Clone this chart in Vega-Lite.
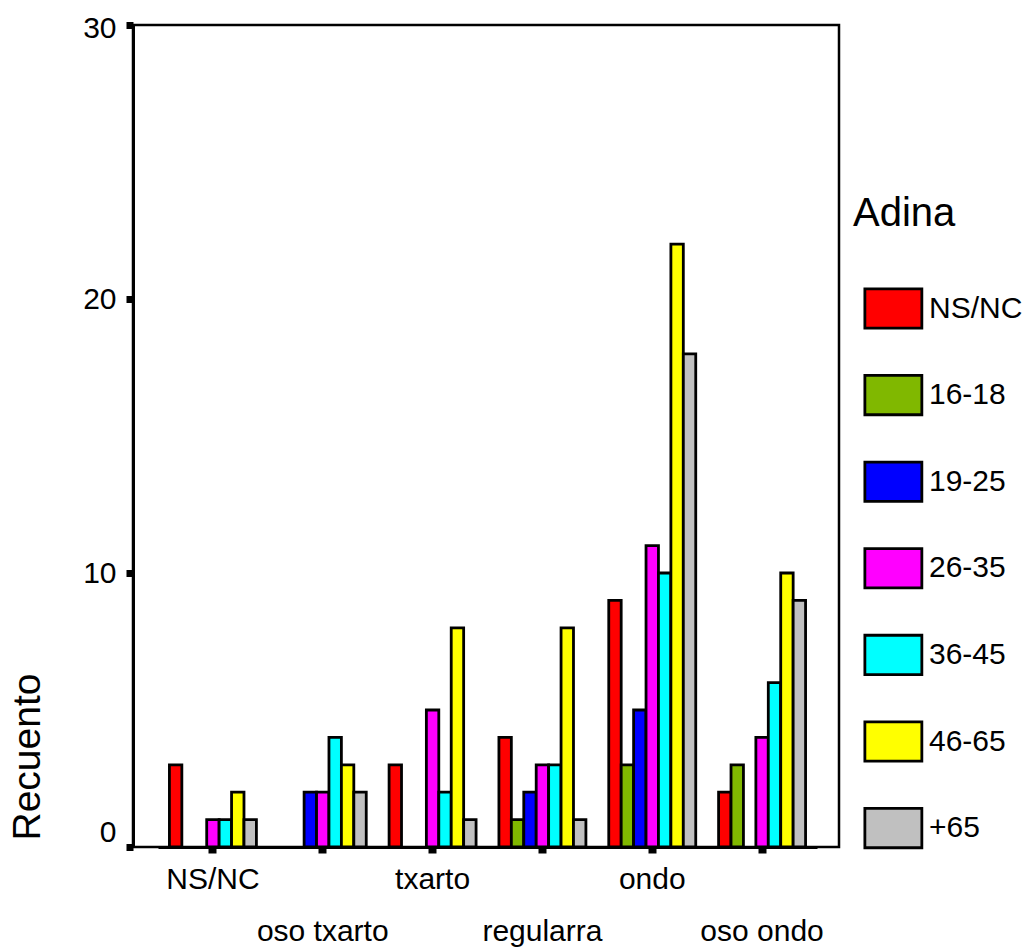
{
  "$schema": "https://vega.github.io/schema/vega-lite/v6.json",
  "autosize": {"type": "none"},
  "padding": {"left": 133, "top": 25, "right": 184, "bottom": 100},
  "width": 706,
  "height": 822,
  "background": "white",
  "config": {
    "font": "Liberation Sans",
    "view": {"stroke": "black", "strokeWidth": 2.5},
    "axis": {"labelColor": "black", "titleColor": "black", "domainColor": "black", "tickColor": "black", "grid": false}
  },
  "data": {
    "values": [
      {"valoracion": "NS/NC", "adina": "NS/NC", "recuento": 3},
      {"valoracion": "NS/NC", "adina": "26-35", "recuento": 1},
      {"valoracion": "NS/NC", "adina": "36-45", "recuento": 1},
      {"valoracion": "NS/NC", "adina": "46-65", "recuento": 2},
      {"valoracion": "NS/NC", "adina": "+65", "recuento": 1},
      {"valoracion": "oso txarto", "adina": "19-25", "recuento": 2},
      {"valoracion": "oso txarto", "adina": "26-35", "recuento": 2},
      {"valoracion": "oso txarto", "adina": "36-45", "recuento": 4},
      {"valoracion": "oso txarto", "adina": "46-65", "recuento": 3},
      {"valoracion": "oso txarto", "adina": "+65", "recuento": 2},
      {"valoracion": "txarto", "adina": "NS/NC", "recuento": 3},
      {"valoracion": "txarto", "adina": "26-35", "recuento": 5},
      {"valoracion": "txarto", "adina": "36-45", "recuento": 2},
      {"valoracion": "txarto", "adina": "46-65", "recuento": 8},
      {"valoracion": "txarto", "adina": "+65", "recuento": 1},
      {"valoracion": "regularra", "adina": "NS/NC", "recuento": 4},
      {"valoracion": "regularra", "adina": "16-18", "recuento": 1},
      {"valoracion": "regularra", "adina": "19-25", "recuento": 2},
      {"valoracion": "regularra", "adina": "26-35", "recuento": 3},
      {"valoracion": "regularra", "adina": "36-45", "recuento": 3},
      {"valoracion": "regularra", "adina": "46-65", "recuento": 8},
      {"valoracion": "regularra", "adina": "+65", "recuento": 1},
      {"valoracion": "ondo", "adina": "NS/NC", "recuento": 9},
      {"valoracion": "ondo", "adina": "16-18", "recuento": 3},
      {"valoracion": "ondo", "adina": "19-25", "recuento": 5},
      {"valoracion": "ondo", "adina": "26-35", "recuento": 11},
      {"valoracion": "ondo", "adina": "36-45", "recuento": 10},
      {"valoracion": "ondo", "adina": "46-65", "recuento": 22},
      {"valoracion": "ondo", "adina": "+65", "recuento": 18},
      {"valoracion": "oso ondo", "adina": "NS/NC", "recuento": 2},
      {"valoracion": "oso ondo", "adina": "16-18", "recuento": 3},
      {"valoracion": "oso ondo", "adina": "26-35", "recuento": 4},
      {"valoracion": "oso ondo", "adina": "36-45", "recuento": 6},
      {"valoracion": "oso ondo", "adina": "46-65", "recuento": 10},
      {"valoracion": "oso ondo", "adina": "+65", "recuento": 9}
    ]
  },
  "mark": {"type": "bar", "stroke": "black", "strokeWidth": 2.8, "opacity": 1},
  "encoding": {
    "x": {
      "field": "valoracion",
      "type": "nominal",
      "sort": ["NS/NC", "oso txarto", "txarto", "regularra", "ondo", "oso ondo"],
      "scale": {"domain": ["NS/NC", "oso txarto", "txarto", "regularra", "ondo", "oso ondo"], "range": [25, 684], "paddingInner": 0.208, "paddingOuter": 0.104},
      "axis": {
        "title": null,
        "labelAngle": 0,
        "labelFontSize": 30,
        "labelPadding": 11,
        "labelLineHeight": 52,
        "labelBaseline": "top",
        "labelExpr": "indexof(['oso txarto','regularra','oso ondo'], datum.value) >= 0 ? ['', datum.label] : datum.label",
        "tickSize": 6,
        "tickWidth": 8,
        "domainWidth": 3
      }
    },
    "xOffset": {
      "field": "adina",
      "type": "nominal",
      "scale": {"domain": ["NS/NC", "16-18", "19-25", "26-35", "36-45", "46-65", "+65"], "paddingInner": 0, "paddingOuter": 0}
    },
    "y": {
      "field": "recuento",
      "type": "quantitative",
      "scale": {"domain": [0, 30], "nice": false},
      "axis": {
        "title": "Recuento",
        "titleFontSize": 39,
        "titleFontWeight": "normal",
        "titleAngle": 270,
        "titleAlign": "left",
        "titleBaseline": "alphabetic",
        "titleX": -94,
        "titleY": 815,
        "values": [0, 10, 20, 30],
        "labelFontSize": 30,
        "labelPadding": 10,
        "labelBaseline": {"condition": {"test": "datum.value == 0", "value": "bottom"}, "value": "middle"},
        "labelOffset": {"condition": {"test": "datum.value == 30", "value": 3}, "value": 0},
        "tickSize": 7,
        "tickWidth": 7,
        "domainWidth": 3
      }
    },
    "color": {
      "field": "adina",
      "type": "nominal",
      "scale": {
        "domain": ["NS/NC", "16-18", "19-25", "26-35", "36-45", "46-65", "+65"],
        "range": ["#FF0000", "#80B800", "#0000FF", "#FF00FF", "#00FFFF", "#FFFF00", "#C0C0C0"]
      },
      "legend": {
        "title": "Adina",
        "orient": "none",
        "legendX": 720,
        "legendY": 169,
        "padding": 0,
        "titleFontSize": 40,
        "titleFontWeight": "normal",
        "titleColor": "black",
        "titlePadding": 53,
        "labelFontSize": 30,
        "labelColor": "black",
        "labelOffset": 33,
        "symbolType": "M-0.49,-1L2.41,-1L2.41,1L-0.49,1Z",
        "symbolSize": 1544,
        "symbolStrokeColor": "black",
        "symbolStrokeWidth": 2.8,
        "symbolOpacity": 1,
        "rowPadding": 35.6
      }
    }
  }
}
